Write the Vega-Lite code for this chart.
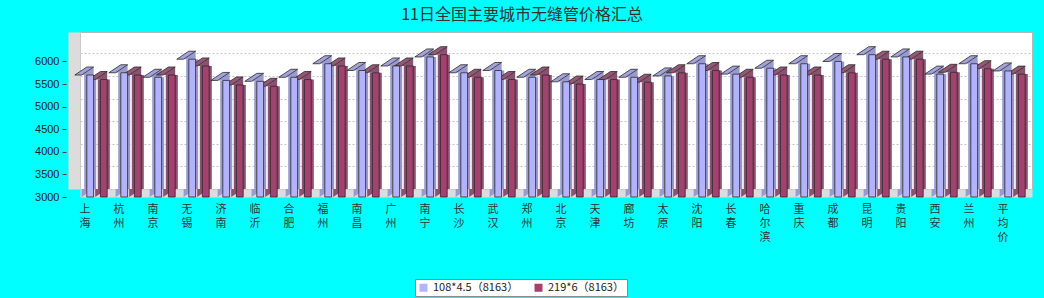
{
  "$schema": "https://vega.github.io/schema/vega-lite/v6.json",
  "width": 952,
  "height": 157,
  "autosize": {"type": "none"},
  "padding": {"left": 80, "top": 32, "right": 12, "bottom": 109},
  "background": "#00ffff",
  "title": {"text": "11日全国主要城市无缝管价格汇总", "font": "Noto Sans CJK SC", "fontSize": 16, "fontWeight": "normal", "color": "#333333", "dx": -34, "offset": -4, "anchor": "middle", "baseline": "alphabetic"},
  "config": {"view": {"fill": "white", "stroke": "#b8b8b8"}},
  "data": {"values": [
    {"city": "上海", "series": "108*4.5（8163）", "value": 5700}, {"city": "上海", "series": "219*6（8163）", "value": 5600},
    {"city": "杭州", "series": "108*4.5（8163）", "value": 5750}, {"city": "杭州", "series": "219*6（8163）", "value": 5700},
    {"city": "南京", "series": "108*4.5（8163）", "value": 5650}, {"city": "南京", "series": "219*6（8163）", "value": 5700},
    {"city": "无锡", "series": "108*4.5（8163）", "value": 6050}, {"city": "无锡", "series": "219*6（8163）", "value": 5900},
    {"city": "济南", "series": "108*4.5（8163）", "value": 5580}, {"city": "济南", "series": "219*6（8163）", "value": 5480},
    {"city": "临沂", "series": "108*4.5（8163）", "value": 5560}, {"city": "临沂", "series": "219*6（8163）", "value": 5450},
    {"city": "合肥", "series": "108*4.5（8163）", "value": 5650}, {"city": "合肥", "series": "219*6（8163）", "value": 5600},
    {"city": "福州", "series": "108*4.5（8163）", "value": 5950}, {"city": "福州", "series": "219*6（8163）", "value": 5900},
    {"city": "南昌", "series": "108*4.5（8163）", "value": 5800}, {"city": "南昌", "series": "219*6（8163）", "value": 5750},
    {"city": "广州", "series": "108*4.5（8163）", "value": 5900}, {"city": "广州", "series": "219*6（8163）", "value": 5900},
    {"city": "南宁", "series": "108*4.5（8163）", "value": 6100}, {"city": "南宁", "series": "219*6（8163）", "value": 6150},
    {"city": "长沙", "series": "108*4.5（8163）", "value": 5750}, {"city": "长沙", "series": "219*6（8163）", "value": 5650},
    {"city": "武汉", "series": "108*4.5（8163）", "value": 5800}, {"city": "武汉", "series": "219*6（8163）", "value": 5600},
    {"city": "郑州", "series": "108*4.5（8163）", "value": 5650}, {"city": "郑州", "series": "219*6（8163）", "value": 5700},
    {"city": "北京", "series": "108*4.5（8163）", "value": 5550}, {"city": "北京", "series": "219*6（8163）", "value": 5500},
    {"city": "天津", "series": "108*4.5（8163）", "value": 5600}, {"city": "天津", "series": "219*6（8163）", "value": 5600},
    {"city": "廊坊", "series": "108*4.5（8163）", "value": 5650}, {"city": "廊坊", "series": "219*6（8163）", "value": 5540},
    {"city": "太原", "series": "108*4.5（8163）", "value": 5680}, {"city": "太原", "series": "219*6（8163）", "value": 5750},
    {"city": "沈阳", "series": "108*4.5（8163）", "value": 5950}, {"city": "沈阳", "series": "219*6（8163）", "value": 5800},
    {"city": "长春", "series": "108*4.5（8163）", "value": 5720}, {"city": "长春", "series": "219*6（8163）", "value": 5650},
    {"city": "哈尔滨", "series": "108*4.5（8163）", "value": 5850}, {"city": "哈尔滨", "series": "219*6（8163）", "value": 5700},
    {"city": "重庆", "series": "108*4.5（8163）", "value": 5950}, {"city": "重庆", "series": "219*6（8163）", "value": 5700},
    {"city": "成都", "series": "108*4.5（8163）", "value": 6000}, {"city": "成都", "series": "219*6（8163）", "value": 5750},
    {"city": "昆明", "series": "108*4.5（8163）", "value": 6150}, {"city": "昆明", "series": "219*6（8163）", "value": 6050},
    {"city": "贵阳", "series": "108*4.5（8163）", "value": 6100}, {"city": "贵阳", "series": "219*6（8163）", "value": 6050},
    {"city": "西安", "series": "108*4.5（8163）", "value": 5720}, {"city": "西安", "series": "219*6（8163）", "value": 5760},
    {"city": "兰州", "series": "108*4.5（8163）", "value": 5950}, {"city": "兰州", "series": "219*6（8163）", "value": 5840},
    {"city": "平均价", "series": "108*4.5（8163）", "value": 5790}, {"city": "平均价", "series": "219*6（8163）", "value": 5720}
  ]},
  "encoding": {
    "x": {"field": "city", "type": "nominal", "sort": null, "scale": {"paddingInner": 0, "paddingOuter": 0},
      "axis": {"title": null, "offset": 4, "domainColor": "#dcdcdc", "domainWidth": 8, "ticks": false, "labelAngle": 0, "labelPadding": 10, "labelOffset": -12, "labelExpr": "split(datum.label, '')", "labelLineHeight": 14, "labelFontSize": 11, "labelFont": "Noto Sans CJK SC", "labelColor": "#333333", "labelBaseline": "top", "labelAlign": "center"}},
    "xOffset": {"field": "series", "type": "nominal", "sort": null, "scale": {"paddingInner": 0.5, "paddingOuter": 0.5}}
  },
  "layer": [
    {
      "mark": {"type": "rule", "xOffset": -2.6, "yOffset": 8, "strokeWidth": 12},
      "encoding": {
        "y": {"field": "value", "type": "quantitative", "scale": {"domain": [3000, 6475], "zero": false, "nice": false},
          "axis": {"title": null, "orient": "left", "offset": 6, "values": [3000, 3500, 4000, 4500, 5000, 5500, 6000], "labels": false, "ticks": false, "domainColor": "#dcdcdc", "domainWidth": 12, "grid": true, "gridColor": "#c4c4c4", "gridDash": [2, 2]}},
        "y2": {"datum": 3000},
        "stroke": {"condition": {"test": "indexof(datum.series, '108') === 0", "value": "#9a9ad2"}, "value": "#8c5070"}
      }
    },
    {
      "mark": {"type": "point", "shape": "M-8.6,0L3.4,0L-8.6,8Z", "size": 4, "filled": true, "opacity": 1, "strokeWidth": 0},
      "encoding": {
        "y": {"datum": 3000, "type": "quantitative", "axis": null},
        "fill": {"condition": {"test": "indexof(datum.series, '108') === 0", "value": "#9a9ad2"}, "value": "#8c5070"}
      }
    },
    {
      "mark": {"type": "rule", "xOffset": 3.4, "strokeWidth": 0.8, "color": "#2a2a2a"},
      "encoding": {
        "y": {"field": "value", "type": "quantitative", "axis": null},
        "y2": {"datum": 3000}
      }
    },
    {
      "mark": {"type": "point", "shape": "M-8.6,8L3.4,0L3.4,8Z", "size": 4, "filled": true, "opacity": 1, "strokeWidth": 0},
      "encoding": {
        "y": {"field": "value", "type": "quantitative", "axis": null},
        "fill": {"condition": {"test": "indexof(datum.series, '108') === 0", "value": "#9a9ad2"}, "value": "#8c5070"}
      }
    },
    {
      "mark": {"type": "point", "shape": "M-15.4,8L-8.6,8L3.4,0L-3.4,0Z", "size": 4, "filled": true, "opacity": 1, "stroke": "#2a2a2a", "strokeWidth": 0.8},
      "encoding": {
        "y": {"field": "value", "type": "quantitative", "axis": null},
        "fill": {"condition": {"test": "indexof(datum.series, '108') === 0", "value": "#a3a3da"}, "value": "#955877"}
      }
    },
    {
      "mark": {"type": "bar", "xOffset": -12, "yOffset": 8, "y2Offset": 8, "stroke": "#2a2a2a", "strokeWidth": 0.8, "opacity": 1},
      "encoding": {
        "y": {"field": "value", "type": "quantitative",
          "axis": {"title": null, "orient": "left", "offset": 14, "format": "d", "values": [3000, 3500, 4000, 4500, 5000, 5500, 6000], "tickOffset": 8, "tickSize": 4, "tickColor": "#444444", "labelPadding": 3, "labelFont": "Liberation Sans", "labelFontSize": 11, "labelColor": "#222222", "domain": false, "grid": false}},
        "y2": {"datum": 3000},
        "color": {"field": "series", "type": "nominal", "sort": null,
          "scale": {"range": ["#b3b3fb", "#a3416f"]},
          "legend": {"title": null, "orient": "none", "legendX": 335, "legendY": 247, "direction": "horizontal", "symbolType": "square", "symbolSize": 64, "symbolStrokeWidth": 0, "labelFont": "Noto Sans CJK SC", "labelFontSize": 11, "labelColor": "#222222", "strokeColor": "#8a8a8a", "fillColor": "white", "padding": 3, "columnPadding": 14}}
      }
    }
  ],
  "resolve": {"axis": {"y": "independent"}}
}
